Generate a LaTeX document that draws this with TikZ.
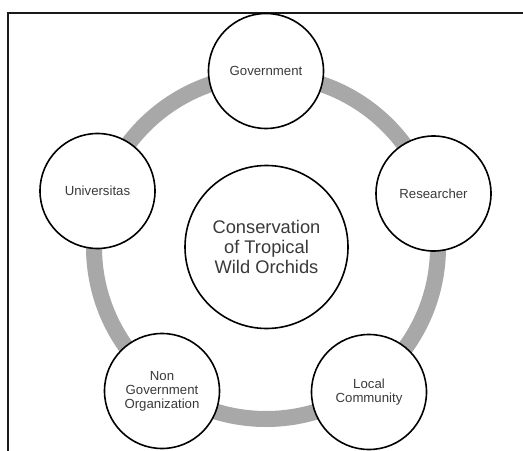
\documentclass[tikz,border=0pt]{standalone}
\usepackage{fontspec}
\setmainfont{Liberation Sans}
\definecolor{ringgray}{HTML}{A8A8A8}
\definecolor{labelgray}{HTML}{3A3A3A}
\definecolor{framegray}{HTML}{1A1A1A}
\begin{document}
\begin{tikzpicture}[x=1bp, y=-1bp,
  actor/.style={circle, draw=black, line width=1.6bp, fill=white,
    minimum size=115bp, inner sep=0pt, align=center, text=labelgray,
    font=\fontsize{13.2bp}{14bp}\selectfont},
  hub/.style={actor, minimum size=163bp,
    font=\fontsize{18.3bp}{20bp}\selectfont},
  ring/.style={draw=ringgray, line width=16bp},
  framing/.style={draw=framegray, line width=1.8bp, line join=miter}]

  \useasboundingbox (0,0) rectangle (523,451);

  % open frame: top and left edges only
  \draw[framing] (523,13) -- (8,13) -- (8,451);

  % the grey ring linking all partners
  \path[ring] (266,247) circle[radius=172];

  % central theme
  \node[hub] (hub) at (266.5,247) {Conservation\\of Tropical\\Wild Orchids};

  % partners around the ring
  \node[actor] (gov) at (266,71)    {Government};
  \node[actor] (res) at (433.5,193.5) {Researcher};
  \node[actor] (loc) at (369,392)   {Local\\Community};
  \node[actor] (ngo) at (162,391)   {Non\\Government\\Organization};
  \node[actor] (uni) at (97.5,191)  {Universitas};
\end{tikzpicture}
\end{document}
